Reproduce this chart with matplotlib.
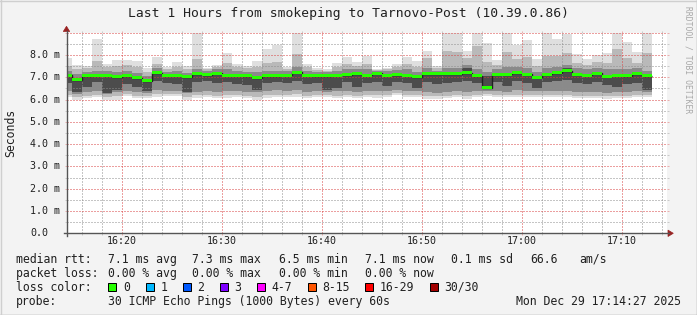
import numpy as np
import matplotlib
matplotlib.use('Agg')
import matplotlib.pyplot as plt
from matplotlib import ticker
from matplotlib import transforms
from matplotlib.patches import Rectangle, Polygon
from matplotlib.lines import Line2D

plt.rcParams['font.family'] = ['DejaVu Sans Mono', 'DejaVu Sans']

W, H = 697, 315

# one step per minute, x = minutes after 16:00, first step is 16:14-16:15
first_min = 14

# median rtt per step (ms)
med = [7.10, 6.88, 7.07, 7.10, 7.10, 7.03, 7.06, 6.98, 6.85, 7.21,
       7.09, 7.10, 7.02, 7.15, 7.12, 7.18, 7.08, 7.10, 7.07, 6.98,
       7.07, 7.07, 7.10, 7.23, 7.10, 7.07, 7.07, 7.10, 7.12, 7.15,
       7.10, 7.18, 7.10, 7.12, 7.10, 7.03, 7.16, 7.15, 7.15, 7.16,
       7.20, 7.06, 6.52, 7.13, 7.14, 7.21, 7.14, 7.00, 7.14, 7.20,
       7.30, 7.13, 7.10, 7.17, 7.05, 7.08, 7.07, 7.16, 7.06]

# smoke: sorted ping spread per step (ms)
ping_min = [6.12, 6.00, 6.05, 6.10, 6.00, 6.00, 6.15, 6.05, 6.08, 6.12,
            6.17, 6.15, 6.00, 6.08, 6.12, 6.05, 6.08, 6.12, 6.05, 6.00,
            6.08, 6.12, 6.12, 6.12, 6.05, 6.12, 6.12, 6.05, 6.12, 6.05,
            6.12, 6.08, 6.12, 6.20, 6.12, 6.12, 6.02, 6.02, 6.05, 6.12,
            6.02, 6.12, 6.15, 6.13, 6.10, 6.13, 6.13, 6.10, 6.10, 6.12,
            6.10, 6.07, 6.07, 6.07, 6.02, 6.07, 6.07, 6.10, 6.12]
p10 = [6.22, 6.10, 6.18, 6.22, 6.12, 6.15, 6.25, 6.18, 6.18, 6.25,
       6.25, 6.25, 6.12, 6.20, 6.22, 6.18, 6.22, 6.22, 6.18, 6.12,
       6.20, 6.22, 6.22, 6.25, 6.18, 6.22, 6.22, 6.18, 6.22, 6.18,
       6.22, 6.20, 6.22, 6.28, 6.22, 6.22, 6.15, 6.15, 6.18, 6.22,
       6.15, 6.22, 6.25, 6.22, 6.20, 6.22, 6.22, 6.20, 6.20, 6.22,
       6.20, 6.18, 6.18, 6.18, 6.15, 6.18, 6.18, 6.20, 6.22]
p25 = [6.40, 6.25, 6.35, 6.40, 6.25, 6.35, 6.40, 6.35, 6.30, 6.45,
       6.40, 6.40, 6.28, 6.35, 6.40, 6.35, 6.40, 6.40, 6.35, 6.32,
       6.40, 6.42, 6.40, 6.45, 6.35, 6.40, 6.35, 6.38, 6.40, 6.35,
       6.40, 6.40, 6.40, 6.45, 6.40, 6.40, 6.35, 6.30, 6.35, 6.40,
       6.35, 6.40, 6.40, 6.40, 6.35, 6.42, 6.40, 6.38, 6.38, 6.40,
       6.40, 6.35, 6.35, 6.35, 6.30, 6.35, 6.35, 6.38, 6.35]
p40 = [6.75, 6.32, 6.55, 6.80, 6.30, 6.45, 6.70, 6.55, 6.40, 6.85,
       6.75, 6.70, 6.35, 6.80, 6.85, 6.75, 6.80, 6.70, 6.65, 6.42,
       6.75, 6.80, 6.75, 6.85, 6.70, 6.75, 6.42, 6.50, 6.80, 6.55,
       6.75, 6.80, 6.60, 6.80, 6.75, 6.50, 6.80, 6.70, 6.75, 6.80,
       6.85, 6.75, 6.48, 6.80, 6.60, 6.85, 6.75, 6.50, 6.80, 6.85,
       6.90, 6.75, 6.70, 6.80, 6.65, 6.55, 6.70, 6.75, 6.44]
p60 = [7.15, 6.95, 7.12, 7.15, 7.15, 7.08, 7.12, 7.03, 6.90, 7.26,
       7.14, 7.15, 7.05, 7.20, 7.17, 7.23, 7.15, 7.15, 7.12, 7.05,
       7.12, 7.12, 7.15, 7.28, 7.15, 7.12, 7.12, 7.15, 7.17, 7.20,
       7.15, 7.22, 7.15, 7.17, 7.15, 7.06, 7.20, 7.20, 7.20, 7.20,
       7.42, 7.12, 7.05, 7.18, 7.20, 7.27, 7.19, 7.05, 7.19, 7.25,
       7.40, 7.18, 7.15, 7.22, 7.10, 7.13, 7.12, 7.21, 7.10]
p75 = [7.30, 7.15, 7.25, 7.30, 7.28, 7.25, 7.28, 7.20, 7.05, 7.40,
       7.25, 7.30, 7.20, 7.35, 7.28, 7.35, 7.35, 7.30, 7.25, 7.25,
       7.30, 7.30, 7.28, 7.45, 7.30, 7.25, 7.22, 7.30, 7.35, 7.35,
       7.35, 7.28, 7.28, 7.32, 7.35, 7.25, 7.40, 7.30, 7.40, 7.40,
       7.55, 7.35, 7.25, 7.35, 7.45, 7.45, 7.40, 7.25, 7.40, 7.45,
       7.55, 7.40, 7.35, 7.40, 7.35, 7.35, 7.35, 7.40, 7.30]
p90 = [7.50, 7.35, 7.40, 7.75, 7.45, 7.50, 7.55, 7.45, 7.25, 7.60,
       7.38, 7.45, 7.38, 7.80, 7.35, 7.45, 7.65, 7.45, 7.40, 7.45,
       7.65, 7.70, 7.38, 8.05, 7.45, 7.33, 7.30, 7.45, 7.60, 7.50,
       7.60, 7.33, 7.36, 7.45, 7.60, 7.45, 7.85, 7.42, 8.20, 8.15,
       7.85, 8.40, 7.70, 7.55, 8.15, 7.80, 7.90, 7.50, 7.95, 7.95,
       8.10, 7.65, 7.55, 7.70, 7.65, 8.25, 7.85, 7.65, 8.10]
ping_max = [7.88, 7.55, 7.50, 8.72, 7.60, 7.78, 7.78, 7.73, 7.42, 7.90,
            7.48, 7.68, 7.52, 9.30, 7.43, 7.53, 8.08, 7.58, 7.52, 7.73,
            8.27, 8.45, 7.47, 9.30, 7.58, 7.40, 7.36, 7.62, 7.90, 7.70,
            7.95, 7.37, 7.43, 7.60, 7.90, 7.73, 8.18, 7.52, 9.30, 9.30,
            8.18, 9.30, 8.53, 7.79, 9.30, 8.47, 8.68, 7.83, 9.30, 8.72,
            8.92, 8.05, 7.83, 8.00, 8.10, 9.30, 8.58, 8.13, 9.30]

time_labels = ['16:20', '16:30', '16:40', '16:50', '17:00', '17:10']
time_ticks = [20, 30, 40, 50, 60, 70]

loss_labels = ['0', '1', '2', '3', '4-7', '8-15', '16-29', '30/30']
loss_colors = ['#26ff00', '#00b8ff', '#0059ff', '#7e00ff', '#ff00ff', '#ff5500', '#ff0000', '#a10000']

title = 'Last 1 Hours from smokeping to Tarnovo-Post (10.39.0.86)'

edges = np.arange(first_min, first_min + len(med) + 1)
med = np.array(med)

fig = plt.figure(figsize=(W / 100, H / 100), dpi=100, facecolor='#f3f3f3')
ax = fig.add_axes([66.5 / W, 1 - 233.3 / H, 600.2 / W, 200.6 / H])
ax.set_facecolor('white')
ax.set_xlim(14.48, 74.48)
ax.set_ylim(0, 9.0)

# smoke layers, lightest outside
bands = [(ping_min, ping_max, '#dfdfdf'), (p10, p90, '#b9b9b9'),
         (p25, p75, '#8a8a8a'), (p40, p60, '#4c4c4c')]
for lo, hi, c in bands:
    ax.stairs(hi, edges, baseline=lo, fill=True, color=c, lw=0, zorder=2)

# median: dark line plus loss coloured band
sw = 0.068
ax.stairs(med, edges, baseline=None, color='#202020', lw=1, zorder=4)
ax.stairs(med + sw, edges, baseline=med - sw, fill=True, color=loss_colors[0], lw=0, zorder=5)

# grid
minor_c = (0.55, 0.55, 0.55, 0.4)
major_c = (0.85, 0.25, 0.25, 0.38)
ax.yaxis.set_major_locator(ticker.MultipleLocator(1.0))
ax.yaxis.set_minor_locator(ticker.MultipleLocator(0.5))
ax.xaxis.set_major_locator(ticker.FixedLocator(time_ticks))
ax.xaxis.set_minor_locator(ticker.MultipleLocator(2))
ax.set_axisbelow(False)
ax.grid(which='minor', color=minor_c, lw=0.72, linestyle=(0, (1, 2)))
ax.grid(which='major', color=major_c, lw=0.72, linestyle=(0, (1, 2)))
ax.tick_params(which='minor', length=1.5, width=0.72, color=minor_c, direction='out',
               left=True, right=True, top=True, bottom=True)
ax.tick_params(which='major', length=1.5, width=0.72, color=major_c, direction='out',
               left=True, right=True, top=True, bottom=True,
               labelleft=False, labelbottom=False)
for s in ax.spines.values():
    s.set_visible(False)

# axis lines and arrows
axis_c = '#555555'
arrow_c = '#992222'
def fx(px):
    return px / W
def fy(py):
    return 1 - py / H
fig.add_artist(Line2D([fx(66.5), fx(66.5)], [fy(236), fy(31)], color=axis_c, lw=1))
fig.add_artist(Line2D([fx(63.5), fx(669)], [fy(233.3), fy(233.3)], color=axis_c, lw=1))
fig.add_artist(Polygon([(fx(63.3), fy(31.5)), (fx(69.7), fy(31.5)), (fx(66.5), fy(26.3))],
                       closed=True, facecolor=arrow_c, edgecolor=arrow_c, lw=0.5))
fig.add_artist(Polygon([(fx(668), fy(230.1)), (fx(668), fy(236.5)), (fx(673.3), fy(233.3))],
                       closed=True, facecolor=arrow_c, edgecolor=arrow_c, lw=0.5))

# tick labels
ylab_tr = transforms.blended_transform_factory(fig.transFigure, ax.transData)
for v in range(0, 9):
    s = '0.0' if v == 0 else f'{v:.1f} m'
    ax.text(fx(30.3), v, s, transform=ylab_tr, ha='left', va='center', fontsize=7.2,
            color='#202020', clip_on=False)
xlab_tr = transforms.blended_transform_factory(ax.transData, fig.transFigure)
for t, s in zip(time_ticks, time_labels):
    ax.text(t, fy(241.5), s, transform=xlab_tr, ha='center', va='center', fontsize=7.2,
            color='#202020', clip_on=False)

fig.text(fx(348.5), fy(13), title, ha='center', va='center', fontsize=9.4, color='#202020')
fig.text(fx(10.5), fy(133), 'Seconds', rotation=90, ha='center', va='center', fontsize=8.3,
         color='#202020')
fig.text(fx(688), fy(60), 'RRDTOOL / TOBI OETIKER', rotation=270, ha='center', va='center',
         fontsize=5.8, color='#a8a8a8')

# legend
leg_fs = 8.3
row1 = [('median rtt:', 16), ('7.1 ms avg', 107.6), ('7.3 ms max', 192.4), ('6.5 ms min', 279),
        ('7.1 ms now', 365), ('0.1 ms sd', 451), ('66.6', 530), ('am/s', 579)]
row2 = [('packet loss:', 16), ('0.00 % avg', 107.6), ('0.00 % max', 192.4),
        ('0.00 % min', 279), ('0.00 % now', 365)]
for s, x in row1:
    fig.text(fx(x), fy(259.3), s, ha='left', va='center', fontsize=leg_fs, color='#202020')
for s, x in row2:
    fig.text(fx(x), fy(273.3), s, ha='left', va='center', fontsize=leg_fs, color='#202020')
fig.text(fx(16), fy(287.3), 'loss color:', ha='left', va='center', fontsize=leg_fs, color='#202020')
box_x = [108.4, 145.8, 182.8, 219.6, 256.6, 307.6, 365.0, 430.2]
for lab, c, bx in zip(loss_labels, loss_colors, box_x):
    fig.add_artist(Rectangle((fx(bx), fy(291.3)), 8 / W, 8 / H, transform=fig.transFigure,
                             facecolor=c, edgecolor='black', lw=0.72))
    fig.text(fx(bx + 14.5), fy(287.3), lab, ha='left', va='center', fontsize=leg_fs, color='#202020')
fig.text(fx(16), fy(301.3), 'probe:', ha='left', va='center', fontsize=leg_fs, color='#202020')
fig.text(fx(107.6), fy(301.3), '30 ICMP Echo Pings (1000 Bytes) every 60s', ha='left', va='center',
         fontsize=leg_fs, color='#202020')
fig.text(fx(680.5), fy(301.3), 'Mon Dec 29 17:14:27 2025', ha='right', va='center',
         fontsize=leg_fs, color='#202020')

# frame shading
fig.add_artist(Line2D([0, 1], [fy(314.5), fy(314.5)], color='#9a9a9a', lw=1))
fig.add_artist(Line2D([fx(696.5), fx(696.5)], [0, 1], color='#9a9a9a', lw=1))
fig.add_artist(Line2D([0, 1], [fy(0.5), fy(0.5)], color='#cfcfcf', lw=1))
fig.add_artist(Line2D([fx(0.5), fx(0.5)], [0, 1], color='#cfcfcf', lw=1))

fig.savefig('out.png', dpi=100, facecolor=fig.get_facecolor())
